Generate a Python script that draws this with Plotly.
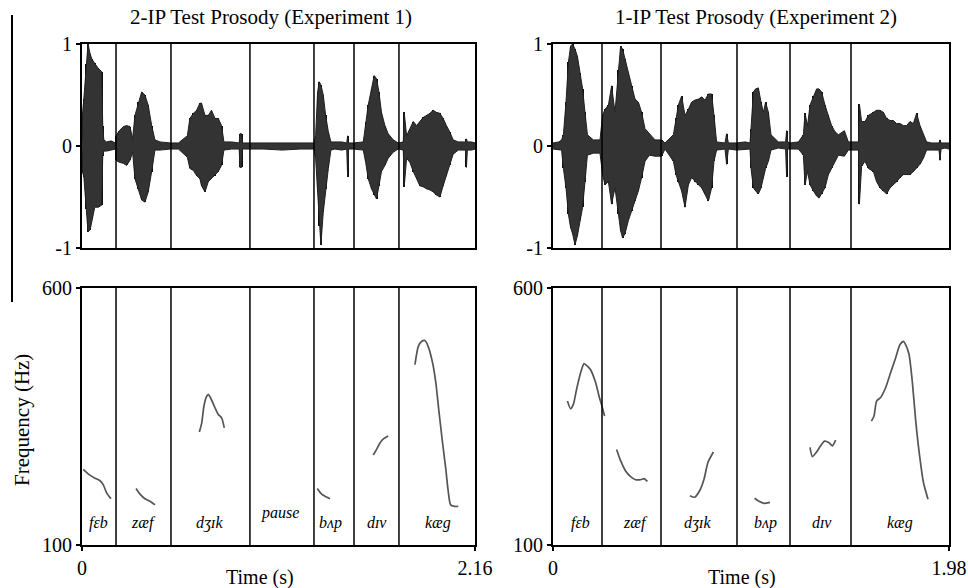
import plotly.graph_objects as go

# ---------------- data ----------------
# Experiment 1 (2-IP) waveform envelope: time (s), upper and lower amplitude
wave1_t = [0.000, 0.002, 0.010, 0.022, 0.033, 0.045, 0.055, 0.070, 0.090, 0.108, 0.114, 0.120, 0.135, 0.160, 0.184,
           0.187, 0.205, 0.227, 0.245, 0.264, 0.278, 0.291, 0.310, 0.328, 0.346, 0.364, 0.383, 0.401, 0.429, 0.484, 0.530,
           0.579, 0.593, 0.612, 0.630, 0.648, 0.657, 0.676, 0.694, 0.712, 0.731, 0.749, 0.767, 0.780, 0.822, 0.864, 0.868, 0.877, 0.882, 0.905,
           1.000, 1.100, 1.200, 1.275,
           1.284, 1.295, 1.304, 1.313, 1.326, 1.339, 1.354, 1.368, 1.390, 1.427, 1.455, 1.460, 1.465, 1.491,
           1.546, 1.559, 1.573, 1.591, 1.606, 1.619, 1.632, 1.646, 1.665, 1.683, 1.711, 1.738, 1.766,
           1.771, 1.784, 1.802, 1.821, 1.839, 1.857, 1.875, 1.894, 1.912, 1.930, 1.948, 1.967, 1.985, 2.003, 2.021, 2.040,
           2.068, 2.108, 2.113, 2.118, 2.141, 2.160]
wave1_upper = [0.04, 0.30, 0.46, 0.80, 1.00, 0.90, 0.85, 0.81, 0.76, 0.73, 0.20, 0.06, 0.04, 0.05, 0.03,
               0.10, 0.15, 0.19, 0.20, 0.19, 0.07, 0.30, 0.43, 0.53, 0.50, 0.40, 0.20, 0.06, 0.04, 0.03, 0.03,
               0.10, 0.27, 0.32, 0.35, 0.42, 0.42, 0.30, 0.30, 0.35, 0.27, 0.27, 0.20, 0.04, 0.04, 0.03, 0.12, 0.12, 0.03, 0.03,
               0.03, 0.03, 0.03, 0.03,
               0.10, 0.53, 0.63, 0.60, 0.50, 0.30, 0.14, 0.04, 0.04, 0.04, 0.03, 0.10, 0.03, 0.03,
               0.04, 0.24, 0.40, 0.56, 0.69, 0.66, 0.53, 0.33, 0.20, 0.12, 0.06, 0.03, 0.04,
               0.33, 0.10, 0.17, 0.24, 0.20, 0.24, 0.28, 0.30, 0.32, 0.35, 0.33, 0.32, 0.27, 0.20, 0.14, 0.06,
               0.04, 0.04, 0.07, 0.04, 0.04, 0.03]
wave1_lower = [-0.04, -0.25, -0.30, -0.62, -0.84, -0.82, -0.72, -0.60, -0.60, -0.58, -0.10, -0.05, -0.05, -0.04, -0.03,
               -0.14, -0.16, -0.17, -0.19, -0.14, -0.06, -0.32, -0.42, -0.53, -0.55, -0.45, -0.25, -0.04, -0.04, -0.03, -0.03,
               -0.11, -0.22, -0.24, -0.29, -0.32, -0.39, -0.45, -0.35, -0.32, -0.29, -0.25, -0.19, -0.04, -0.03, -0.03, -0.21, -0.21, -0.03, -0.03,
               -0.03, -0.04, -0.03, -0.03,
               -0.12, -0.45, -0.78, -0.97, -0.65, -0.42, -0.22, -0.04, -0.03, -0.04, -0.03, -0.30, -0.03, -0.03,
               -0.04, -0.16, -0.32, -0.42, -0.48, -0.52, -0.39, -0.25, -0.19, -0.12, -0.06, -0.03, -0.04,
               -0.40, -0.12, -0.16, -0.25, -0.32, -0.39, -0.40, -0.42, -0.43, -0.45, -0.48, -0.50, -0.39, -0.29, -0.19, -0.08,
               -0.04, -0.04, -0.21, -0.04, -0.04, -0.03]

# Experiment 2 (1-IP) waveform envelope
wave2_t = [0.000, 0.030, 0.043, 0.052, 0.065, 0.077, 0.088, 0.098, 0.110, 0.122, 0.135, 0.148, 0.160, 0.172, 0.202, 0.235,
           0.248, 0.260, 0.277, 0.293, 0.310, 0.327, 0.338, 0.348, 0.360, 0.377, 0.393, 0.410, 0.427, 0.443, 0.460, 0.482, 0.510, 0.543,
           0.560, 0.602, 0.615, 0.627, 0.643, 0.660, 0.677, 0.693, 0.710, 0.727, 0.743, 0.760, 0.777, 0.793, 0.805, 0.818, 0.860, 0.868, 0.877, 0.918, 0.960,
           0.985, 0.990, 1.002, 1.013, 1.027, 1.040, 1.052, 1.063, 1.077, 1.090, 1.127, 1.163, 1.168, 1.173, 1.185,
           1.227, 1.252, 1.260, 1.273, 1.285, 1.302, 1.318, 1.330, 1.343, 1.360, 1.377, 1.393, 1.410, 1.427, 1.457, 1.477,
           1.510, 1.528, 1.532, 1.543, 1.560, 1.577, 1.602, 1.618, 1.635, 1.652, 1.668, 1.685, 1.702, 1.718, 1.735, 1.752, 1.768,
           1.785, 1.802, 1.818, 1.835, 1.852, 1.868, 1.893, 1.930, 1.935, 1.940, 1.960, 1.980]
wave2_upper = [0.03, 0.04, 0.06, 0.11, 0.43, 0.82, 0.98, 1.00, 0.95, 0.88, 0.72, 0.56, 0.33, 0.11, 0.06, 0.06,
               0.30, 0.36, 0.40, 0.59, 0.33, 0.75, 0.98, 0.95, 0.85, 0.72, 0.59, 0.46, 0.43, 0.33, 0.17, 0.12, 0.06, 0.06,
               0.03, 0.11, 0.27, 0.40, 0.49, 0.30, 0.36, 0.43, 0.45, 0.46, 0.48, 0.45, 0.51, 0.51, 0.30, 0.04, 0.03, 0.12, 0.03, 0.03, 0.04,
               0.03, 0.17, 0.53, 0.56, 0.57, 0.43, 0.33, 0.43, 0.33, 0.11, 0.04, 0.04, 0.15, 0.04, 0.03,
               0.04, 0.11, 0.32, 0.20, 0.40, 0.49, 0.56, 0.56, 0.53, 0.40, 0.30, 0.20, 0.14, 0.11, 0.15, 0.04,
               0.04, 0.04, 0.41, 0.24, 0.24, 0.30, 0.33, 0.35, 0.35, 0.33, 0.27, 0.25, 0.25, 0.22, 0.22, 0.20, 0.20,
               0.24, 0.22, 0.32, 0.20, 0.11, 0.04, 0.03, 0.03, 0.06, 0.03, 0.03, 0.03]
wave2_lower = [-0.03, -0.04, -0.04, -0.22, -0.41, -0.67, -0.80, -0.86, -0.97, -0.88, -0.73, -0.60, -0.35, -0.09, -0.07, -0.07,
               -0.28, -0.38, -0.35, -0.57, -0.41, -0.67, -0.83, -0.90, -0.86, -0.73, -0.64, -0.54, -0.44, -0.31, -0.15, -0.09, -0.10, -0.10,
               -0.03, -0.15, -0.28, -0.35, -0.44, -0.60, -0.38, -0.31, -0.35, -0.38, -0.41, -0.47, -0.54, -0.41, -0.15, -0.04, -0.03, -0.18, -0.03, -0.04, -0.03,
               -0.03, -0.22, -0.41, -0.44, -0.47, -0.41, -0.31, -0.22, -0.15, -0.04, -0.02, -0.03, -0.30, -0.03, -0.03,
               -0.03, -0.09, -0.38, -0.25, -0.38, -0.44, -0.49, -0.51, -0.47, -0.41, -0.28, -0.22, -0.15, -0.09, -0.10, -0.04,
               -0.04, -0.04, -0.57, -0.20, -0.15, -0.22, -0.25, -0.35, -0.41, -0.44, -0.47, -0.41, -0.38, -0.35, -0.31, -0.28, -0.28,
               -0.28, -0.25, -0.22, -0.18, -0.12, -0.04, -0.04, -0.04, -0.14, -0.03, -0.02, -0.03]

# Pitch contours (Hz); None separates syllables
pitch1_t = [0.007, 0.035, 0.071, 0.099, 0.117, 0.136, 0.159, None,
            0.297, 0.319, 0.346, 0.374, 0.401, None,
            0.645, 0.658, 0.670, 0.685, 0.694, 0.707, 0.731, 0.749, 0.768, 0.782, None,
            1.293, 1.317, 1.341, 1.363, None,
            1.601, 1.619, 1.637, 1.655, 1.683, None,
            1.830, 1.848, 1.866, 1.885, 1.903, 1.927, 1.945, 1.963, 1.982, 2.000, 2.012, 2.026, 2.049, 2.068]
pitch1_hz = [247, 238, 230, 225, 217, 201, 190, None,
             210, 199, 190, 185, 178, None,
             320, 337, 370, 389, 393, 386, 367, 354, 347, 328, None,
             210, 199, 194, 190, None,
             275, 286, 298, 306, 312, None,
             451, 486, 496, 498, 486, 454, 415, 356, 298, 246, 207, 178, 175, 175]

pitch2_t = [0.072, 0.088, 0.102, 0.118, 0.138, 0.155, 0.172, 0.188, 0.213, 0.230, 0.247, 0.258, None,
            0.318, 0.338, 0.363, 0.388, 0.413, 0.438, 0.455, 0.472, None,
            0.685, 0.708, 0.735, 0.755, 0.775, 0.802, None,
            1.008, 1.030, 1.055, 1.085, None,
            1.285, 1.297, 1.318, 1.338, 1.358, 1.380, 1.397, 1.413, None,
            1.592, 1.605, 1.618, 1.638, 1.663, 1.688, 1.713, 1.735, 1.752, 1.763, 1.780, 1.797, 1.813, 1.830, 1.852, 1.875]
pitch2_hz = [380, 365, 374, 403, 435, 453, 448, 441, 416, 390, 367, 351, None,
             286, 264, 244, 233, 227, 227, 229, 224, None,
             196, 193, 207, 228, 261, 281, None,
             191, 185, 181, 183, None,
             290, 272, 281, 293, 302, 299, 293, 304, None,
             341, 351, 380, 387, 406, 435, 464, 490, 496, 490, 471, 416, 344, 283, 222, 189]

# Syllable boundaries (s)
bounds1 = [0.187, 0.489, 0.923, 1.275, 1.495, 1.742]
bounds2 = [0.245, 0.540, 0.920, 1.185, 1.490]

# Syllable labels
words1 = ["fɛb", "zæf", "dʒɪk", "pause", "bʌp", "dɪv", "kæg"]
words1_t = [0.088, 0.336, 0.703, 1.088, 1.368, 1.620, 1.955]
words2 = ["fɛb", "zæf", "dʒɪk", "bʌp", "dɪv", "kæg"]
words2_t = [0.138, 0.413, 0.720, 1.060, 1.345, 1.735]

dur1 = 2.16
dur2 = 1.98
titles = ["2-IP Test Prosody (Experiment 1)", "1-IP Test Prosody (Experiment 2)"]

# ---------------- figure ----------------
W, H = 968, 588
FONT = "Liberation Serif"


def px_x(p):
    return p / W


def px_y(p):
    return 1 - p / H


fig = go.Figure()

# waveforms: grey envelope fill plus dark strokes at each sampled point
for wt, wu, wl, xa, ya in [(wave1_t, wave1_upper, wave1_lower, "x", "y"),
                           (wave2_t, wave2_upper, wave2_lower, "x2", "y2")]:
    fig.add_trace(go.Scatter(x=wt, y=wu, mode="lines", line=dict(color="#202020", width=1),
                             xaxis=xa, yaxis=ya, showlegend=False, hoverinfo="skip"))
    fig.add_trace(go.Scatter(x=wt, y=wl, mode="lines", line=dict(color="#202020", width=1),
                             fill="tonexty", fillcolor="#333333",
                             xaxis=xa, yaxis=ya, showlegend=False, hoverinfo="skip"))
    fig.add_trace(go.Bar(x=wt, y=[u - l for u, l in zip(wu, wl)], base=wl, width=0.005,
                         marker=dict(color="#0a0a0a", line=dict(width=0)),
                         xaxis=xa, yaxis=ya, showlegend=False, hoverinfo="skip"))

# pitch contours
for pt, ph, xa, ya in [(pitch1_t, pitch1_hz, "x3", "y3"), (pitch2_t, pitch2_hz, "x4", "y4")]:
    fig.add_trace(go.Scatter(x=pt, y=ph, mode="lines", connectgaps=False,
                             line=dict(color="#555555", width=1.7, shape="spline", smoothing=0.6),
                             xaxis=xa, yaxis=ya, showlegend=False, hoverinfo="skip"))

# word labels
for words, wts, xa, ya in [(words1, words1_t, "x3", "y3"), (words2, words2_t, "x4", "y4")]:
    for w, t in zip(words, wts):
        fig.add_annotation(x=t, y=162 if w == "pause" else 143, xref=xa, yref=ya, text="<i>" + w + "</i>",
                           showarrow=False, font=dict(family=FONT, size=16, color="black"),
                           xanchor="center", yanchor="middle")

# boundary lines
for bnds, axes in [(bounds1, [("x", "y"), ("x3", "y3")]), (bounds2, [("x2", "y2"), ("x4", "y4")])]:
    for xa, ya in axes:
        for b in bnds:
            fig.add_shape(type="line", x0=b, x1=b, y0=0, y1=1, xref=xa, yref=ya + " domain",
                          line=dict(color="black", width=1.5), layer="above")

# domains
lx = [px_x(82), px_x(475)]
rx = [px_x(553), px_x(949)]
ty = [px_y(248), px_y(44)]
by = [px_y(545), px_y(288)]

axis_common = dict(showline=True, mirror=True, linecolor="black", linewidth=2, automargin=False,
                   showgrid=False, zeroline=False, ticklen=4, tickwidth=1.5,
                   tickcolor="black", tickfont=dict(family=FONT, size=20, color="black"))

fig.update_layout(
    width=W, height=H, margin=dict(l=0, r=0, t=0, b=0),
    paper_bgcolor="white", plot_bgcolor="white", bargap=0, barmode="overlay",
    xaxis=dict(domain=lx, range=[0, dur1], anchor="y", showticklabels=False, ticks="", **axis_common),
    yaxis=dict(domain=ty, range=[-1, 1], anchor="x", ticks="outside", tickvals=[-1, 0, 1], ticktext=["-1", "0", "1"], **axis_common),
    xaxis2=dict(domain=rx, range=[0, dur2], anchor="y2", showticklabels=False, ticks="", **axis_common),
    yaxis2=dict(domain=ty, range=[-1, 1], anchor="x2", ticks="outside", tickvals=[-1, 0, 1], ticktext=["-1", "0", "1"], **axis_common),
    xaxis3=dict(domain=lx, range=[0, dur1], anchor="y3", ticks="outside", tickvals=[0, dur1], ticktext=["0", "2.16"], **axis_common),
    yaxis3=dict(domain=by, range=[100, 600], anchor="x3", ticks="outside", tickvals=[100, 600], ticktext=["100", "600"], **axis_common),
    xaxis4=dict(domain=rx, range=[0, dur2], anchor="y4", ticks="outside", tickvals=[0, dur2], ticktext=["0", "1.98"], **axis_common),
    yaxis4=dict(domain=by, range=[100, 600], anchor="x4", ticks="outside", tickvals=[100, 600], ticktext=["100", "600"], **axis_common),
)

# titles
for txt, cx in zip(titles, [271, 756]):
    fig.add_annotation(x=px_x(cx), y=px_y(17), xref="paper", yref="paper", text=txt, showarrow=False,
                       font=dict(family=FONT, size=21, color="black"), xanchor="center", yanchor="middle")

# axis titles
for cx in [260, 742]:
    fig.add_annotation(x=px_x(cx), y=px_y(577), xref="paper", yref="paper", text="Time (s)", showarrow=False,
                       font=dict(family=FONT, size=20, color="black"), xanchor="center", yanchor="middle")
fig.add_annotation(x=px_x(22), y=px_y(420), xref="paper", yref="paper", text="Frequency (Hz)", showarrow=False,
                   textangle=-90, font=dict(family=FONT, size=21, color="black"), xanchor="center", yanchor="middle")

# stray vertical rule at the left edge of the original figure
fig.add_shape(type="line", x0=px_x(12), x1=px_x(12), y0=px_y(15), y1=px_y(302), xref="paper", yref="paper",
              line=dict(color="black", width=2))

fig.write_html("out.html", config={"displayModeBar": False},
               post_script="document.body.style.margin='0';document.body.style.overflow='hidden';")
